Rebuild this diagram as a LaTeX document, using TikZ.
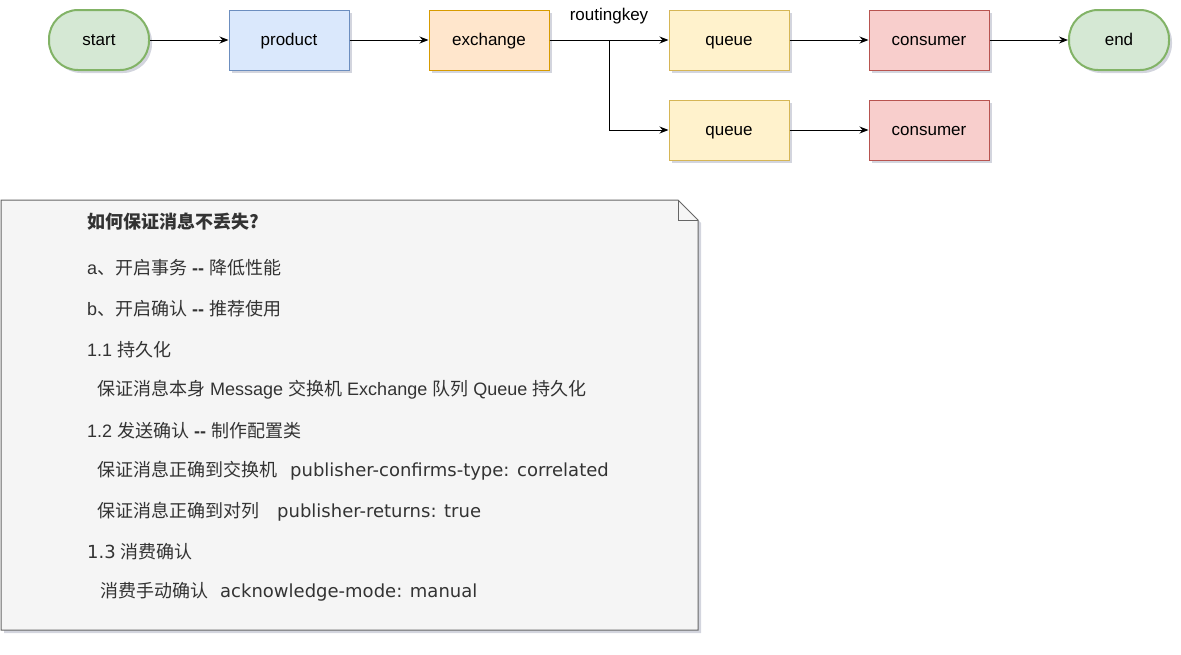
\documentclass[tikz,border=0pt]{standalone}
\usepackage{fontspec}
\setmainfont{Liberation Sans}
\newfontfamily\cjkfont{Noto Sans CJK SC}
\newfontfamily\vfont{DejaVu Sans}
\usetikzlibrary{arrows.meta,shadows,calc}
\definecolor{gfill}{HTML}{D5E8D4}\definecolor{gline}{HTML}{82B366}
\definecolor{bfill}{HTML}{DAE8FC}\definecolor{bline}{HTML}{6C8EBF}
\definecolor{ofill}{HTML}{FFE6CC}\definecolor{oline}{HTML}{D79B00}
\definecolor{yfill}{HTML}{FFF2CC}\definecolor{yline}{HTML}{D6B656}
\definecolor{rfill}{HTML}{F8CECC}\definecolor{rline}{HTML}{B85450}
\definecolor{nfill}{HTML}{F5F5F5}\definecolor{nline}{HTML}{666666}
\definecolor{ntext}{HTML}{333333}
\definecolor{shcol}{HTML}{8088A0}
\newcommand{\cj}[1]{{\cjkfont #1}}
\newcommand{\vf}[1]{{\vfont #1}}
\newcommand{\dd}{{\bfseries -{}-}}
\tikzset{
  shd/.style={drop shadow={shadow xshift=3pt,shadow yshift=-3pt,opacity=0.35,fill=shcol}},
  lbl/.style={font=\fontsize{17}{20}\selectfont,text height=13pt,text depth=2.6pt},
  boxbase/.style={draw,line width=1pt,minimum width=120pt,minimum height=60pt,inner sep=0pt,
    lbl,text=black,shd},
  terminal/.style={boxbase,minimum width=100pt,rounded corners=29pt,fill=gfill,draw=gline,line width=2pt},
  prodbox/.style={boxbase,fill=bfill,draw=bline},
  exbox/.style={boxbase,fill=ofill,draw=oline},
  qbox/.style={boxbase,fill=yfill,draw=yline},
  cbox/.style={boxbase,fill=rfill,draw=rline},
  conn/.style={line width=1pt,-{Stealth[length=9pt,width=7pt,inset=3pt]}},
  noteline/.style={anchor=west,inner sep=0pt,text=ntext,font=\fontsize{18}{21}\selectfont},
}
\begin{document}
\begin{tikzpicture}[x=1pt,y=-1pt]
\useasboundingbox (0,0) rectangle (1181,654);
% top flow
\node[terminal] (start) at (99,40) {start};
\node[prodbox] (product) at (289,40) {product};
\node[exbox] (exchange) at (489,40) {exchange};
\node[qbox] (queue1) at (729,40) {queue};
\node[cbox] (consumer1) at (929,40) {consumer};
\node[terminal] (end) at (1119,40) {end};
\node[qbox] (queue2) at (729,130) {queue};
\node[cbox] (consumer2) at (929,130) {consumer};
\coordinate (split) at (609,40);
\draw[conn] (start) -- (product);
\draw[conn] (product) -- (exchange);
\draw[conn] (exchange) -- (queue1);
\node[lbl,inner sep=0pt] (rk) at (609,15) {routingkey};
\draw[conn] (exchange.east) -- (split) |- (queue2.west);
\draw[conn] (queue1) -- (consumer1);
\draw[conn] (consumer1) -- (end);
\draw[conn] (queue2) -- (consumer2);
% note
\path[fill=nfill,draw=nline,line width=1pt,shd]
  (1,200) -- (678,200) -- (698,220) -- (698,630) -- (1,630) -- cycle;
\draw[nline,line width=1pt] (678,200) -- (678,220) -- (698,220);
\node[noteline] (l0) at (87,222) {\cjkfont\bfseries 如何保证消息不丢失?};
\node[noteline] (l1) at (87,268) {a\cj{、开启事务} \dd{} \cj{降低性能}};
\node[noteline] (l2) at (87,309) {b\cj{、开启确认} \dd{} \cj{推荐使用}};
\node[noteline] (l3) at (87,350) {1.1 \cj{持久化}};
\node[noteline] (l4) at (97,390) {\cj{保证消息本身} Message \cj{交换机} Exchange \cj{队列} Queue \cj{持久化}};
\node[noteline] (l5) at (87,431) {1.2 \cj{发送确认} \dd{} \cj{制作配置类}};
\node[noteline] (l6) at (97,471) {\cj{保证消息正确到交换机}\hspace{13pt}\vf{publisher-confirms-type: correlated}};
\node[noteline] (l7) at (97,512) {\cj{保证消息正确到对列}\hspace{18pt}\vf{publisher-returns: true}};
\node[noteline] (l8) at (87,552) {\vf{1.3} \cj{消费确认}};
\node[noteline] (l9) at (100,592) {\cj{消费手动确认}\hspace{12pt}\vf{acknowledge-mode: manual}};
\end{tikzpicture}
\end{document}
